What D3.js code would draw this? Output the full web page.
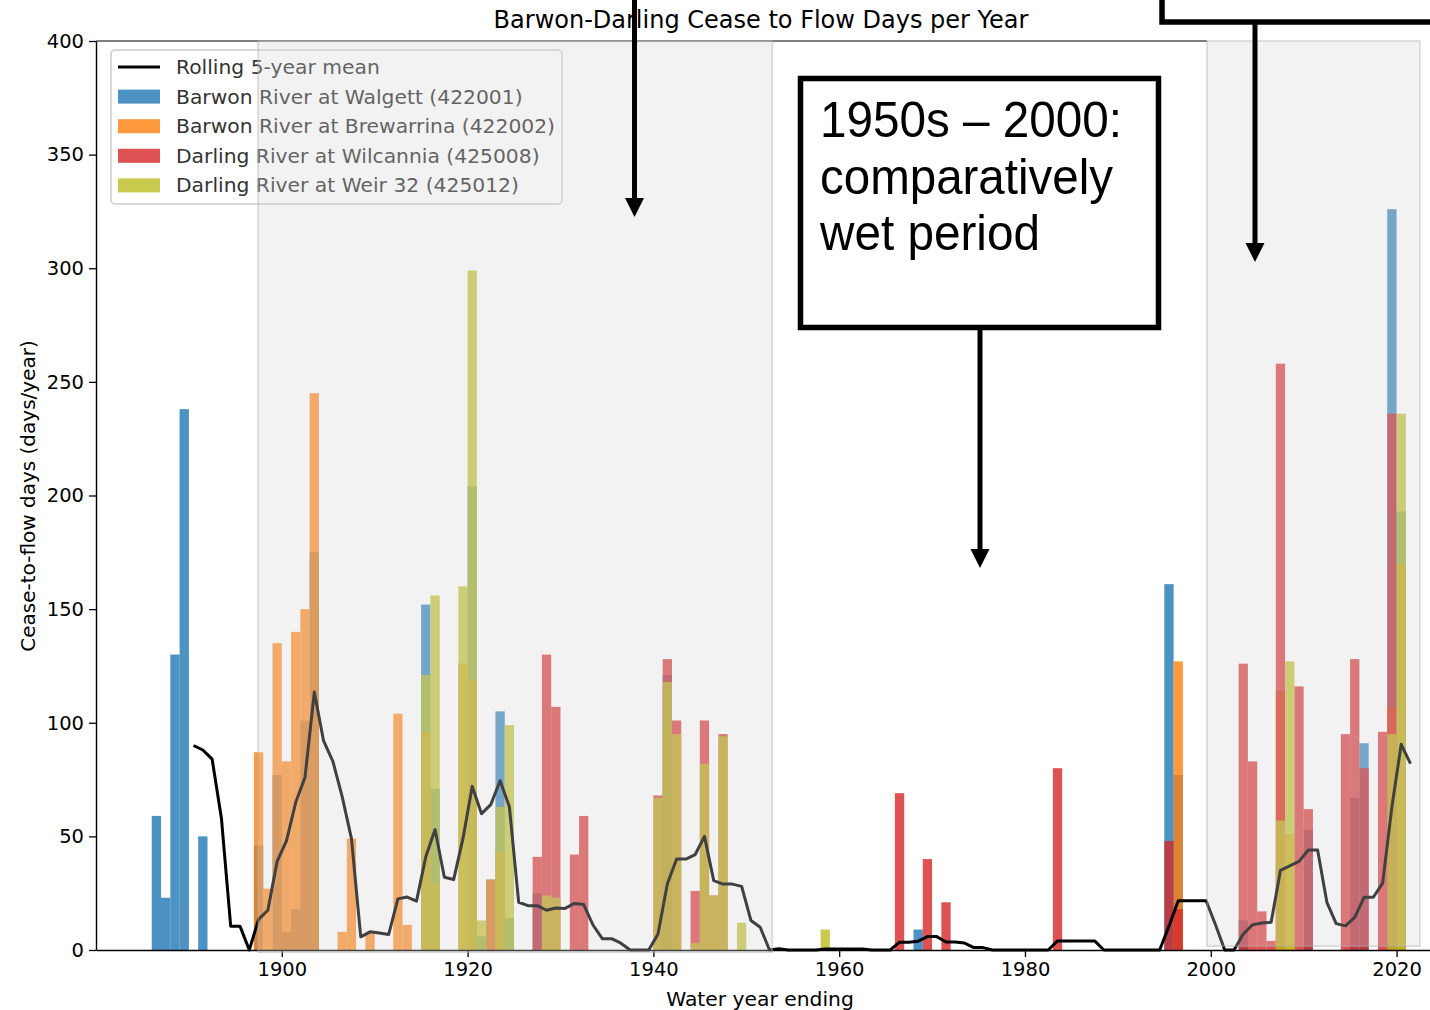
<!DOCTYPE html>
<html>
<head>
<meta charset="utf-8">
<script src="https://cdn.jsdelivr.net/npm/d3@7"></script>
<style>
  body { margin: 0; background: #fff; }
  svg text { font-family: "DejaVu Sans", sans-serif; }
  .note text { font-family: "Liberation Sans", Arial, sans-serif; }
</style>
</head>
<body>
<div id="chart"></div>
<script>
// ---------------- data ----------------
// [water year, cease-to-flow days]
const walgett = [[1886,59],[1887,23],[1888,130],[1889,238],[1891,50],[1897,46],[1899,77],[1900,8],
  [1901,18],[1902,101],[1903,175],[1915,152],[1916,71],[1920,204],[1921,6],[1922,31],[1923,105],
  [1924,14],[1927,25],[1941,121],[1968,9],[1995,161],[1996,77],[2003,13],[2010,53],[2015,67],
  [2016,91],[2019,326],[2020,193]];
const brewarrina = [[1897,87],[1898,27],[1899,135],[1900,83],[1901,140],[1902,150],[1903,245],
  [1906,8],[1907,49],[1909,8],[1912,104],[1913,11],[1915,96],[1916,29],[1919,126],[1920,119],
  [1922,31],[1923,43],[1996,127],[2007,114],[2008,51],[2019,107],[2020,170]];
const wilcannia = [[1927,41],[1928,130],[1929,107],[1931,42],[1932,59],[1940,68],[1941,128],
  [1942,101],[1944,26],[1945,101],[1946,24],[1947,95],[1966,69],[1969,40],[1971,21],[1983,80],
  [1995,48],[1996,18],[2003,126],[2004,83],[2005,17],[2006,4],[2007,258],[2009,116],[2010,62],
  [2014,95],[2015,128],[2016,80],[2018,96],[2019,236]];
const weir32 = [[1915,121],[1916,156],[1919,160],[1920,299],[1921,13],[1923,63],[1924,99],
  [1928,24],[1929,23],[1940,67],[1941,118],[1942,95],[1944,3],[1945,82],[1946,24],[1947,94],
  [1949,12],[1958,9],[2007,57],[2008,127],[2019,95],[2020,236]];

// rolling 5-year mean, one value per year starting 1890
const rollingStart = 1890;
const rollingMean = [90,88,84,58,10.5,10.5,0,13.5,17.5,39, 48,65,76,113.5,92,83,67.5,49,5.8,8,
  7.5,6.8,22.5,23.3,21.5,41,53,32,31,49, 72,60,64,74.5,63,21,19.5,19.5,17.5,18.5,
  18.3,20.5,20,11,5,5,3,0,0,0, 7,29,40,40,42,50,30.5,29,29,28,
  13,10,0,0.6,0,0,0,0,0.45,0.45, 0.45,0.45,0.45,0,0,0,3.45,3.45,3.9,5.9,
  5.9,3.5,3.5,3.05,1.05,1.05,0,0,0,0, 0,0,0,4,4,4,4,4,0,0,
  0,0,0,0,0,10.5,21.7,21.7,21.7,21.7, 11.2,0,0,7,11.1,11.9,12.2,35,37,39,
  44,44,21,11.6,10.6,14.4,23.2,23.2,29.4,63, 90.5,82];

const seriesNames = ["Barwon River at Walgett (422001)", "Barwon River at Brewarrina (422002)",
  "Darling River at Wilcannia (425008)", "Darling River at Weir 32 (425012)"];
const seriesColors = ["#1f77b4", "#ff7f0e", "#d62728", "#bcbd22"];
const shadedSpans = [[1897.45, 1952.8, -1, 400], [1999.6, 2022.5, 1.7, 400]];
const yTicks = [0, 50, 100, 150, 200, 250, 300, 350, 400];
const xTicks = [1900, 1920, 1940, 1960, 1980, 2000, 2020];
const noteLines = ["1950s \u2013 2000:", "comparatively", "wet period"];

// ---------------- svg ----------------
const width = 1430, height = 1010;
const plot = { left: 96, right: 1430, top: 41, bottom: 950 };

const svg = d3.select("#chart").append("svg")
    .attr("width", width)
    .attr("height", height);

const x = d3.scaleLinear().domain([1880, 2023.6]).range([plot.left, plot.right]);
const y = d3.scaleLinear().domain([0, 400]).range([plot.bottom, plot.top]);

// bars, drawn in station order so the later ones sit on top
const stations = [walgett, brewarrina, wilcannia, weir32];
stations.forEach(function(rows, i) {
    svg.append("g").selectAll("rect")
        .data(rows)
        .enter().append("rect")
        .attr("x", d => x(d[0]))
        .attr("width", d => x(d[0] + 1) - x(d[0]))
        .attr("y", d => y(d[1]))
        .attr("height", d => y(0) - y(d[1]))
        .attr("fill", seriesColors[i])
        .attr("fill-opacity", 0.8);
});

// rolling mean
const lineData = rollingMean.map((v, i) => ({ year: rollingStart + i, v: v }));
const rollLine = d3.line()
    .x(d => x(d.year + 0.5))
    .y(d => y(d.v));
svg.append("path")
    .datum(lineData)
    .attr("d", rollLine)
    .attr("fill", "none")
    .attr("stroke", "#000")
    .attr("stroke-width", 3)
    .attr("stroke-linejoin", "round");

// axes
const yAxis = svg.append("g")
    .attr("transform", "translate(" + plot.left + ",0)")
    .call(d3.axisLeft(y).tickValues(yTicks).tickSize(7).tickPadding(5).tickSizeOuter(0));
const xAxis = svg.append("g")
    .attr("transform", "translate(0," + plot.bottom + ")")
    .call(d3.axisBottom(x).tickValues(xTicks).tickFormat(d3.format("d"))
        .tickSize(7).tickPadding(5).tickSizeOuter(0));
[yAxis, xAxis].forEach(function(a) {
    a.selectAll("text").style("font-size", "19.5px").attr("fill", "#000");
    a.selectAll("line").attr("stroke", "#000").attr("stroke-width", 1.3);
    a.select(".domain").attr("stroke", "#000").attr("stroke-width", 1.4);
});
svg.append("line")
    .attr("x1", plot.left).attr("x2", x(1999.6))
    .attr("y1", plot.top).attr("y2", plot.top)
    .attr("stroke", "#000").attr("stroke-width", 1.2);

// titles
svg.append("text")
    .attr("x", 761).attr("y", 28)
    .attr("text-anchor", "middle")
    .style("font-size", "24px")
    .text("Barwon-Darling Cease to Flow Days per Year");
svg.append("text")
    .attr("x", 760).attr("y", 1006)
    .attr("text-anchor", "middle")
    .style("font-size", "20.3px")
    .text("Water year ending");
svg.append("text")
    .attr("transform", "translate(35,496) rotate(-90)")
    .attr("text-anchor", "middle")
    .style("font-size", "20px")
    .text("Cease-to-flow days (days/year)");

// legend
const legend = svg.append("g");
legend.append("rect")
    .attr("x", 111).attr("y", 50).attr("width", 451).attr("height", 154)
    .attr("rx", 4)
    .attr("fill", "#fff").attr("fill-opacity", 0.8)
    .attr("stroke", "#cccccc").attr("stroke-width", 1.5);
const rowY = d => 67 + d * 29.6;
legend.append("line")
    .attr("x1", 118).attr("x2", 160).attr("y1", rowY(0)).attr("y2", rowY(0))
    .attr("stroke", "#000").attr("stroke-width", 3);
legend.append("text")
    .attr("x", 176).attr("y", rowY(0) + 7)
    .style("font-size", "20.3px").attr("fill", "#333")
    .text("Rolling 5-year mean");
seriesNames.forEach(function(name, i) {
    legend.append("rect")
        .attr("x", 118).attr("y", rowY(i + 1) - 7).attr("width", 42).attr("height", 14)
        .attr("fill", seriesColors[i]).attr("fill-opacity", 0.8);
    legend.append("text")
        .attr("x", 176).attr("y", rowY(i + 1) + 7)
        .style("font-size", "20.3px").attr("fill", "#333")
        .text(name);
});

// shaded dry periods, laid over the bars
svg.append("g").selectAll("rect")
    .data(shadedSpans)
    .enter().append("rect")
    .attr("x", d => x(d[0]))
    .attr("width", d => x(d[1]) - x(d[0]))
    .attr("y", d => y(d[3]))
    .attr("height", d => y(d[2]) - y(d[3]))
    .attr("fill", "#d3d3d3").attr("fill-opacity", 0.3)
    .attr("stroke", "#b0b0b0").attr("stroke-opacity", 0.5).attr("stroke-width", 1.5);

// ---------------- annotations (slide overlay) ----------------
const note = svg.append("g").attr("class", "note");

function arrow(cx, y0, y1) {
    note.append("line")
        .attr("x1", cx).attr("x2", cx).attr("y1", y0).attr("y2", y1 - 16)
        .attr("stroke", "#000").attr("stroke-width", 5);
    note.append("path")
        .attr("d", "M" + (cx - 9.5) + "," + (y1 - 19) + "L" + (cx + 9.5) + "," + (y1 - 19) + "L" + cx + "," + y1 + "Z")
        .attr("fill", "#000");
}

note.append("rect")
    .attr("x", 1162).attr("y", -30).attr("width", 300).attr("height", 52)
    .attr("fill", "#fff").attr("stroke", "#000").attr("stroke-width", 5.5);
arrow(634.5, 0, 217);
arrow(1255, 24, 262);

note.append("rect")
    .attr("x", 800.5).attr("y", 78.5).attr("width", 358).attr("height", 249)
    .attr("fill", "#fff").attr("stroke", "#000").attr("stroke-width", 5.5);
const noteWidths = [302, 293, 220];
noteLines.forEach(function(t, i) {
    note.append("text")
        .attr("x", 820).attr("y", 137 + i * 56.5)
        .attr("textLength", noteWidths[i])
        .attr("lengthAdjust", "spacingAndGlyphs")
        .style("font-size", "50px")
        .text(t);
});
arrow(980, 330, 568);
</script>
</body>
</html>
